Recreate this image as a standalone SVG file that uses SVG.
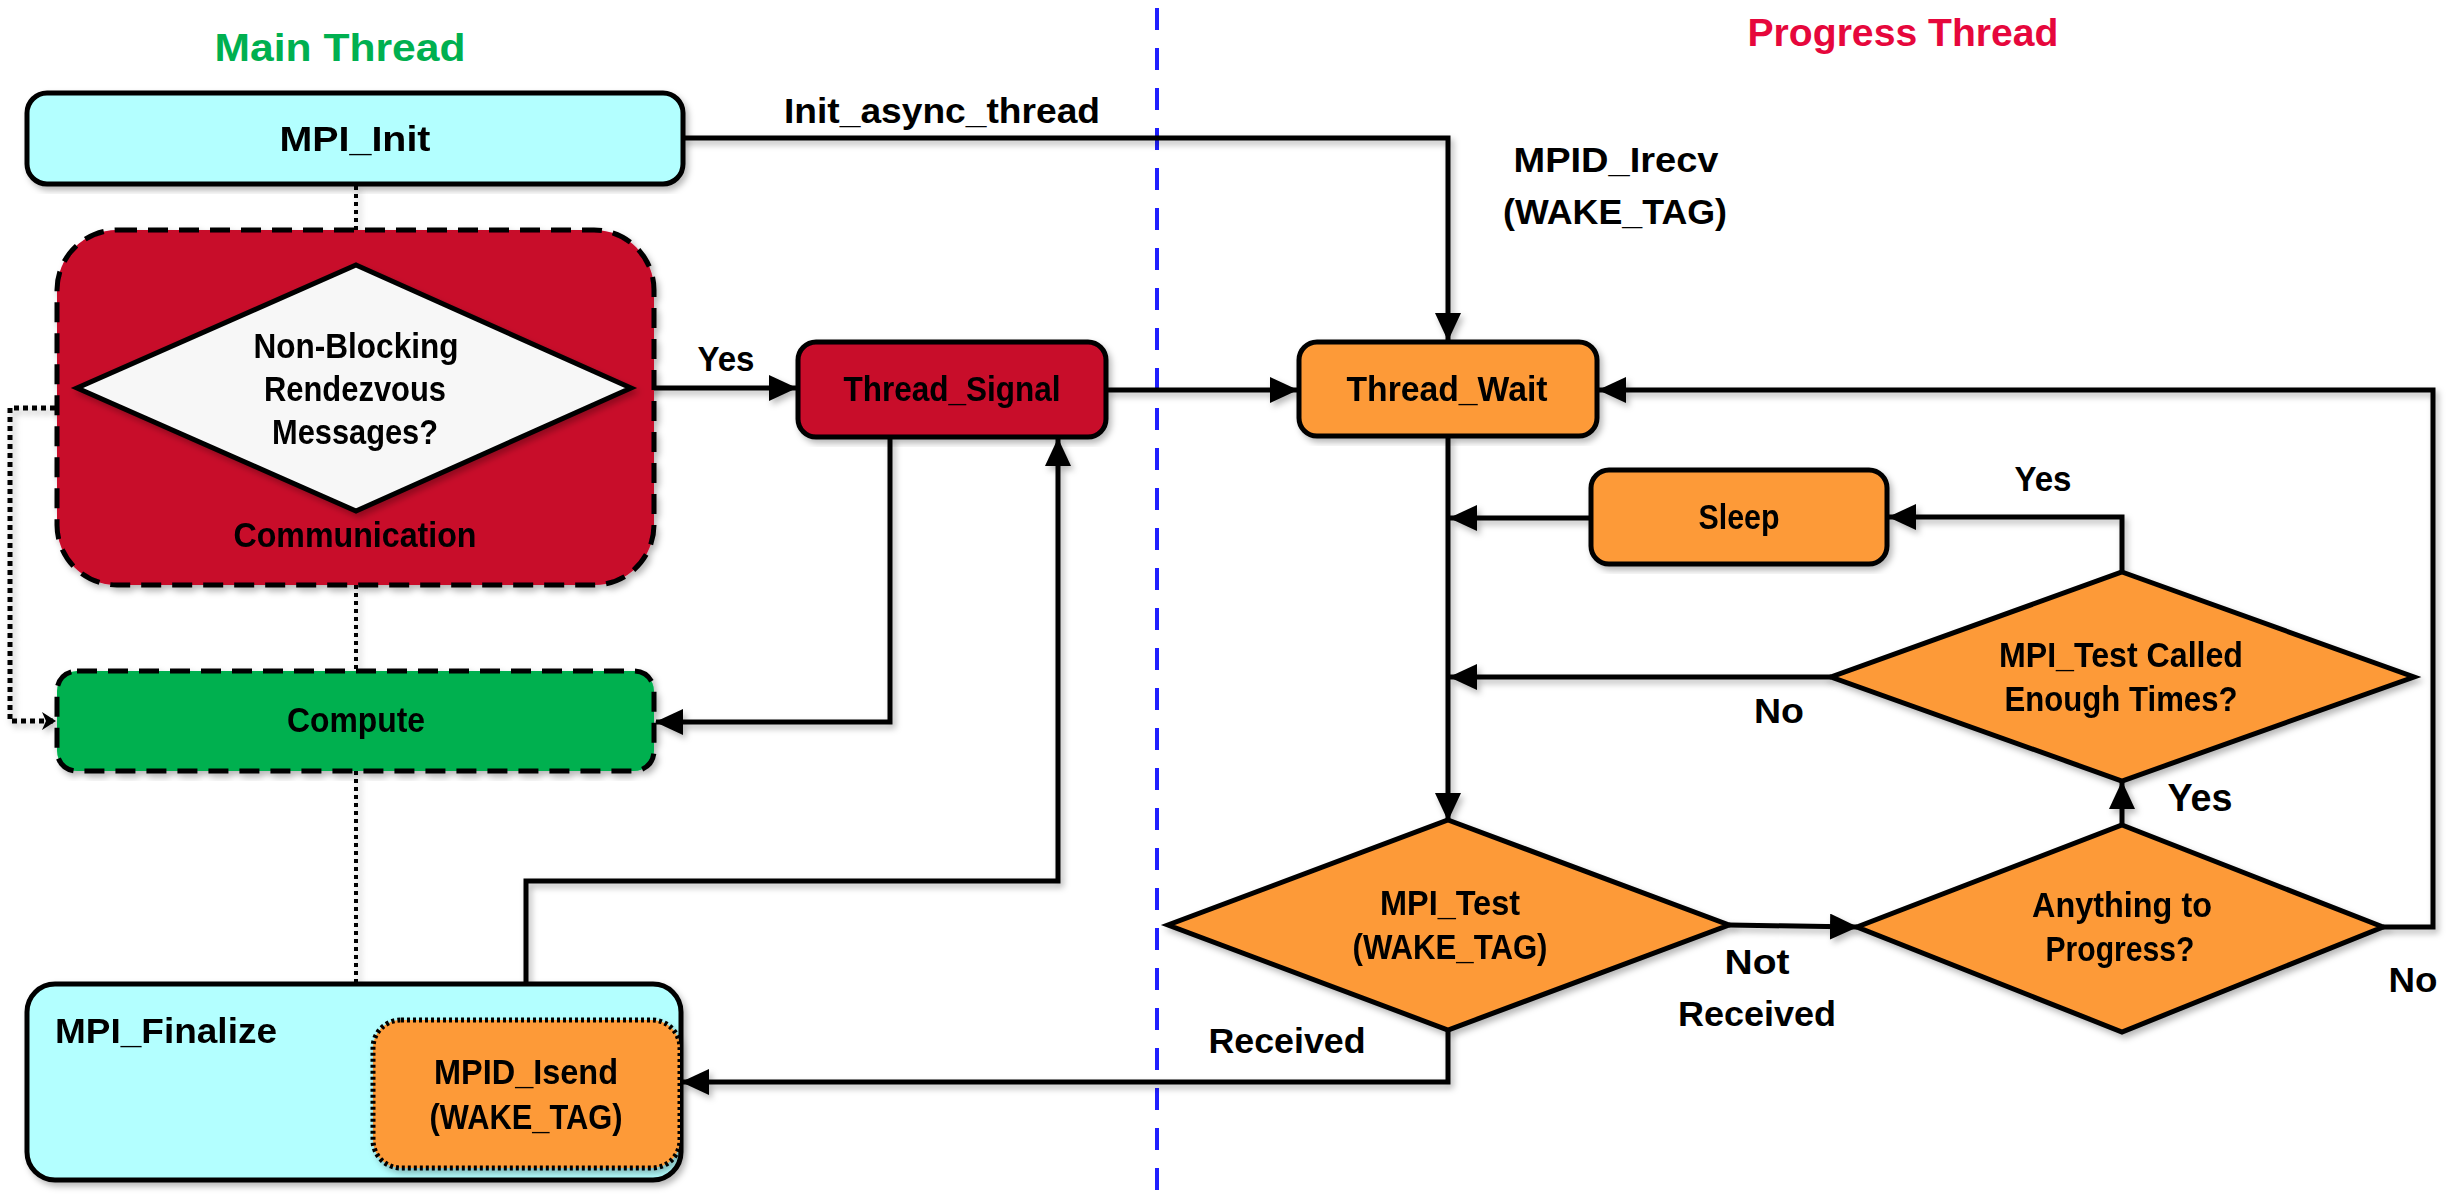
<svg xmlns="http://www.w3.org/2000/svg" width="2461" height="1202" viewBox="0 0 2461 1202">
<style>
text{font-family:"Liberation Sans",Arial,sans-serif;font-weight:bold;font-size:35px;fill:#000;text-anchor:middle}
.box{stroke:#000;stroke-width:5}
.red{fill:#C8082C}
.orange{fill:#FD9A38}
.cyan{fill:#B3FFFF}
.green{fill:#00B050}
.dashed{stroke-dasharray:20 11}
.dotb{stroke-dasharray:3 3}
.conn{fill:none;stroke:#000;stroke-width:5}
.dot{fill:none;stroke:#000;stroke-width:4;stroke-dasharray:4 4}
.loop{fill:none;stroke:#000;stroke-width:5;stroke-dasharray:5 4}
</style>
<defs>
<filter id="sh" x="-10%" y="-10%" width="120%" height="120%">
<feDropShadow dx="3" dy="4" stdDeviation="3" flood-color="#000" flood-opacity="0.28"/>
</filter>
<marker id="ah" markerUnits="userSpaceOnUse" markerWidth="28" markerHeight="26" refX="27" refY="13" orient="auto">
<path d="M0,0 L28,13 L0,26 z" fill="#000"/>
</marker>
<marker id="ahs" markerUnits="userSpaceOnUse" markerWidth="14" markerHeight="18" refX="13" refY="9" orient="auto">
<path d="M0,0 L14,9 L0,18 L4,9 z" fill="#000"/>
</marker>
</defs>
<rect width="2461" height="1202" fill="#fff"/>

<text x="340" y="61" style="fill:#00B050;font-size:39px" textLength="251" lengthAdjust="spacingAndGlyphs">Main Thread</text>
<text x="1903" y="46" style="fill:#E6073C;font-size:39px" textLength="311" lengthAdjust="spacingAndGlyphs">Progress Thread</text>

<line x1="1157" y1="8" x2="1157" y2="1202" stroke="#1F1FFF" stroke-width="4" stroke-dasharray="22 18"/>

<g id="connectors" filter="url(#sh)">
<path class="dot" d="M356,186 V230"/>
<path class="dot" d="M356,585 V671"/>
<path class="dot" d="M356,771 V984"/>
<path class="loop" d="M55,408 H10 V721 H55" marker-start="url(#ahs)" marker-end="url(#ahs)"/>
<path class="conn" d="M683,138 H1448 V340" marker-end="url(#ah)"/>
<path class="conn" d="M631,388 H796" marker-end="url(#ah)"/>
<path class="conn" d="M1106,390 H1297" marker-end="url(#ah)"/>
<path class="conn" d="M890,437 V722 H656" marker-end="url(#ah)"/>
<path class="conn" d="M526,1020 V881 H1058 V439" marker-end="url(#ah)"/>
<path class="conn" d="M1448,436 V820" marker-end="url(#ah)"/>
<path class="conn" d="M1591,518 H1450" marker-end="url(#ah)"/>
<path class="conn" d="M2122,572 V517 H1889" marker-end="url(#ah)"/>
<path class="conn" d="M1831,677 H1450" marker-end="url(#ah)"/>
<path class="conn" d="M1729,925 L1857,927" marker-end="url(#ah)"/>
<path class="conn" d="M2122,825 V782" marker-end="url(#ah)"/>
<path class="conn" d="M2383,927 H2433 V390 H1599" marker-end="url(#ah)"/>
<path class="conn" d="M1448,1030 V1082 H682" marker-end="url(#ah)"/>
</g>

<g id="labels">
<text x="942" y="123" textLength="316" lengthAdjust="spacingAndGlyphs">Init_async_thread</text>
<text x="1616" y="172" textLength="205" lengthAdjust="spacingAndGlyphs">MPID_Irecv</text>
<text x="1615" y="224" textLength="224" lengthAdjust="spacingAndGlyphs">(WAKE_TAG)</text>
<text x="726" y="371" textLength="57" lengthAdjust="spacingAndGlyphs">Yes</text>
<text x="2043" y="491" textLength="57" lengthAdjust="spacingAndGlyphs">Yes</text>
<text x="1779" y="723" textLength="50" lengthAdjust="spacingAndGlyphs">No</text>
<text x="2200" y="811" style="font-size:39px" textLength="65" lengthAdjust="spacingAndGlyphs">Yes</text>
<text x="1757" y="974" textLength="65" lengthAdjust="spacingAndGlyphs">Not</text>
<text x="1757" y="1026" textLength="158" lengthAdjust="spacingAndGlyphs">Received</text>
<text x="2413" y="992" textLength="49" lengthAdjust="spacingAndGlyphs">No</text>
<text x="1287" y="1053" textLength="157" lengthAdjust="spacingAndGlyphs">Received</text>
</g>

<g id="mpi_init" filter="url(#sh)">
<rect class="box cyan" x="27" y="93" width="656" height="91" rx="20"/>
<text x="355" y="151" textLength="151" lengthAdjust="spacingAndGlyphs">MPI_Init</text>
</g>

<g id="communication" filter="url(#sh)">
<rect class="box red dashed" x="57" y="230" width="597" height="355" rx="60"/>
<text x="355" y="547" textLength="243" lengthAdjust="spacingAndGlyphs">Communication</text>
</g>

<g id="nonblocking" filter="url(#sh)">
<polygon class="box" fill="#F7F7F7" points="356,265 631,388 356,511 77,388"/>
<text x="356" y="358" textLength="205" lengthAdjust="spacingAndGlyphs">Non-Blocking</text>
<text x="355" y="401" textLength="182" lengthAdjust="spacingAndGlyphs">Rendezvous</text>
<text x="355" y="444" textLength="166" lengthAdjust="spacingAndGlyphs">Messages?</text>
</g>

<g id="thread_signal" filter="url(#sh)">
<rect class="box red" x="798" y="342" width="308" height="95" rx="18"/>
<text x="952" y="401" textLength="217" lengthAdjust="spacingAndGlyphs">Thread_Signal</text>
</g>

<g id="compute" filter="url(#sh)">
<rect class="box green dashed" x="57" y="671" width="597" height="100" rx="20"/>
<text x="356" y="732" textLength="138" lengthAdjust="spacingAndGlyphs">Compute</text>
</g>

<g id="mpi_finalize" filter="url(#sh)">
<rect class="box cyan" x="27" y="984" width="654" height="196" rx="28"/>
<text x="55" y="1043" style="text-anchor:start" textLength="222" lengthAdjust="spacingAndGlyphs">MPI_Finalize</text>
</g>

<g id="mpid_isend" filter="url(#sh)">
<rect class="box orange dotb" x="373" y="1020" width="307" height="148" rx="28"/>
<text x="526" y="1084" textLength="184" lengthAdjust="spacingAndGlyphs">MPID_Isend</text>
<text x="526" y="1129" textLength="193" lengthAdjust="spacingAndGlyphs">(WAKE_TAG)</text>
</g>

<g id="thread_wait" filter="url(#sh)">
<rect class="box orange" x="1299" y="342" width="298" height="94" rx="18"/>
<text x="1447" y="401" textLength="201" lengthAdjust="spacingAndGlyphs">Thread_Wait</text>
</g>

<g id="sleep" filter="url(#sh)">
<rect class="box orange" x="1591" y="470" width="296" height="94" rx="18"/>
<text x="1739" y="529" textLength="81" lengthAdjust="spacingAndGlyphs">Sleep</text>
</g>

<g id="test_called" filter="url(#sh)">
<polygon class="box orange" points="2122,572 2414,677 2122,781 1831,677"/>
<text x="2121" y="667" textLength="244" lengthAdjust="spacingAndGlyphs">MPI_Test Called</text>
<text x="2121" y="711" textLength="233" lengthAdjust="spacingAndGlyphs">Enough Times?</text>
</g>

<g id="mpi_test" filter="url(#sh)">
<polygon class="box orange" points="1448,820 1729,925 1448,1030 1168,925"/>
<text x="1450" y="915" textLength="140" lengthAdjust="spacingAndGlyphs">MPI_Test</text>
<text x="1450" y="959" textLength="195" lengthAdjust="spacingAndGlyphs">(WAKE_TAG)</text>
</g>

<g id="anything" filter="url(#sh)">
<polygon class="box orange" points="2122,825 2383,927 2122,1032 1857,927"/>
<text x="2122" y="917" textLength="180" lengthAdjust="spacingAndGlyphs">Anything to</text>
<text x="2120" y="961" textLength="149" lengthAdjust="spacingAndGlyphs">Progress?</text>
</g>
</svg>
